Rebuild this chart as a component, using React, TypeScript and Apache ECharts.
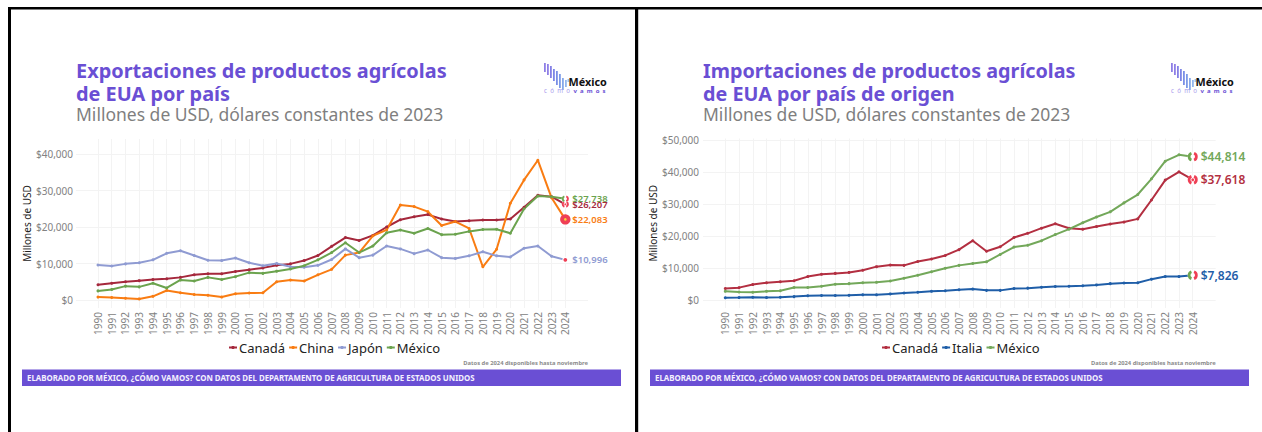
import React, { useEffect, useRef } from "react";
import * as echarts from "echarts";

const FONT = '"Noto Sans", sans-serif';
const years = Array.from({ length: 35 }, (_, i) => 1990 + i);
const ticksLeft = [0, 10000, 20000, 30000, 40000];
const ticksRight = [0, 10000, 20000, 30000, 40000, 50000];

// Exportaciones
const expCanada = [4200, 4600, 5000, 5300, 5600, 5800, 6200, 6900, 7200, 7200, 7800, 8300, 8800, 9500, 9900, 10800, 12200, 14700, 17100, 16300, 17700, 20000, 22000, 22800, 23400, 22200, 21500, 21700, 21900, 21900, 22200, 25400, 28700, 28300, 26207];
const expChina = [800, 700, 500, 300, 1000, 2600, 2000, 1500, 1300, 800, 1700, 1900, 2000, 5000, 5500, 5200, 6900, 8400, 12300, 13000, 17600, 19200, 26000, 25600, 24200, 20400, 21500, 19600, 9100, 13900, 26500, 32900, 38300, 28000, 22083];
const expJapon = [9600, 9300, 9900, 10200, 11000, 12800, 13500, 12200, 10900, 10800, 11500, 10200, 9400, 10000, 9100, 9000, 9500, 11100, 14000, 11600, 12300, 14800, 14000, 12700, 13700, 11600, 11400, 12100, 13200, 12100, 11800, 14200, 14800, 12000, 10996];
const expMexico = [2500, 2900, 3800, 3600, 4600, 3300, 5500, 5200, 6200, 5600, 6400, 7500, 7300, 7900, 8500, 9400, 11000, 13000, 15700, 13000, 14800, 18400, 19200, 18300, 19600, 17900, 18000, 18800, 19300, 19400, 18300, 25000, 28500, 28300, 27738];

// Importaciones
const impCanada = [3700, 3950, 4900, 5500, 5800, 6100, 7400, 8100, 8400, 8700, 9400, 10500, 11000, 10900, 12100, 12900, 14000, 15800, 18600, 15300, 16700, 19600, 20900, 22500, 23900, 22500, 22200, 23000, 23800, 24400, 25400, 31300, 37500, 40100, 37618];
const impItalia = [800, 850, 950, 850, 950, 1150, 1400, 1500, 1500, 1550, 1700, 1700, 2000, 2300, 2500, 2800, 3000, 3300, 3500, 3100, 3100, 3650, 3800, 4050, 4300, 4400, 4550, 4800, 5200, 5400, 5500, 6600, 7400, 7400, 7826];
const impMexico = [2800, 2600, 2500, 2800, 3000, 4000, 4000, 4400, 5000, 5200, 5500, 5600, 6000, 6900, 7800, 8900, 10000, 10900, 11500, 12000, 14300, 16600, 17200, 18600, 20500, 22200, 24200, 26000, 27600, 30400, 33000, 37900, 43400, 45400, 44814];

const PURPLE = "#6a4fd4";
const GRAY = "#828282";
const GRID = "#f3f3f3";

const money = (v: number) => "$" + v.toLocaleString("en-US");
const pairs = (vals: number[]) => vals.map((v, i) => [years[i], v]);

function lineSeries(name: string, vals: number[], color: string, idx: number, labelSize: number, offsetX: number) {
  return {
    type: "line",
    name,
    xAxisIndex: idx,
    yAxisIndex: idx,
    data: pairs(vals),
    symbol: "circle",
    symbolSize: 3,
    lineStyle: { color, width: 2 },
    itemStyle: { color },
    emphasis: { disabled: true },
    endLabel: {
      show: true,
      formatter: () => money(vals[vals.length - 1]),
      color,
      fontFamily: FONT,
      fontWeight: 600,
      fontSize: labelSize,
      offset: [offsetX, 0],
    },
    z: 3,
  };
}

function flagSeries(idx: number, r: number, items: [number, string][]) {
  return {
    type: "custom",
    name: "flags" + idx,
    xAxisIndex: idx,
    yAxisIndex: idx,
    clip: false,
    z: 5,
    silent: true,
    data: items.map(([v, f]) => [2024, v, f]),
    renderItem: (_: any, api: any) => {
      const p = api.coord([api.value(0), api.value(1)]);
      const flag = items[_.dataIndex][1];
      const [cx, cy] = p;
      const RED = "#ef3f55";
      const half = (rad: number, start: number, end: number, fill: string) => ({
        type: "sector",
        shape: { cx, cy, r: rad, r0: rad * 0.45, startAngle: start, endAngle: end },
        style: { fill },
      });
      const dot = (rad: number, fill: string) => ({ type: "circle", shape: { cx, cy, r: rad }, style: { fill } });
      let children: any[] = [];
      if (flag === "cn") children = [dot(5.2, RED), dot(1.3, "#f7d23a")];
      else if (flag === "jp") children = [dot(3, "#fff"), dot(1.9, RED)];
      else {
        const left = flag === "ca" ? RED : "#6fa650";
        const a = 1.2;
        children = [dot(r, "#fff"), half(r, Math.PI - a, Math.PI + a, left), half(r, -a, a, RED)];
        if (flag === "ca") children.push(dot(r * 0.28, RED));
      }
      return { type: "group", children };
    },
  };
}

function xAxis(idx: number, min: number, max: number) {
  return {
    type: "value",
    gridIndex: idx,
    min,
    max,
    axisLine: { show: false },
    axisTick: { show: false, customValues: years },
    splitLine: { show: true, lineStyle: { color: GRID, width: 1 } },
    axisLabel: {
      customValues: years,
      rotate: 90,
      margin: 4,
      color: GRAY,
      fontFamily: FONT,
      fontSize: 10,
      formatter: (v: number) => String(v),
    },
  };
}

function yAxis(idx: number, min: number, max: number, ticks: number[], gap: number, margin: number) {
  return {
    type: "value",
    gridIndex: idx,
    min,
    max,
    name: "Millones de USD",
    nameLocation: "middle",
    nameGap: gap,
    nameRotate: 90,
    nameTextStyle: { color: "#222", fontFamily: FONT, fontSize: 10 },
    axisLine: { show: false },
    axisTick: { show: false, customValues: ticks },
    splitLine: { show: true, lineStyle: { color: GRID, width: 1 } },
    axisLabel: {
      customValues: ticks,
      margin,
      color: GRAY,
      fontFamily: FONT,
      fontSize: 10,
      formatter: money,
    },
  };
}

function logo(x: number, y: number) {
  const bars: [number, number, number][] = [
    [0, 0, 9], [3, 1, 11], [6, 3, 12], [9, 6, 12], [12, 8, 14], [15, 11, 14], [18, 15, 12], [21, 17, 7], [23.5, 16, 3],
  ];
  const barColors = ["#8f7fe6", "#8f7fe6", "#8580e6", "#7d86e6", "#7a8fe6", "#7c9ae8", "#86a8ea", "#93b6ee", "#9cc0f0"];
  return {
    type: "group",
    x,
    y,
    children: [
      ...bars.map((b, i) => ({
        type: "rect",
        shape: { x: b[0], y: b[1], width: 1.8, height: b[2] },
        style: { fill: barColors[i] },
      })),
      { type: "text", x: 24.5, y: 13, style: { text: "México", fill: "#111", font: `700 10.8px ${FONT}` } },
      { type: "text", x: 0, y: 24.5, style: { text: "c  ó  m  o", fill: "#a99bec", font: `400 6.2px ${FONT}` } },
      { type: "text", x: 29.5, y: 24.5, style: { text: "v  a  m  o  s", fill: "#6a4fd4", font: `700 6px ${FONT}` } },
    ],
  };
}

function footer(x: number, noteRight: number) {
  return [
    { type: "rect", shape: { x, y: 369.5, width: 599, height: 16.5 }, style: { fill: PURPLE } },
    {
      type: "text",
      x: x + 5,
      y: 373.5,
      style: {
        text: "ELABORADO POR MÉXICO, ¿CÓMO VAMOS? CON DATOS DEL DEPARTAMENTO DE AGRICULTURA DE ESTADOS UNIDOS",
        fill: "#f4f1ff",
        font: `700 7.87px ${FONT}`,
      },
    },
    {
      type: "text",
      x: noteRight,
      y: 359.5,
      style: {
        text: "Datos de 2024 disponibles hasta noviembre",
        fill: "#8c8c8c",
        align: "right",
        font: `700 5.8px ${FONT}`,
      },
    },
  ];
}

function titles(x: number, line1: string, line2: string, size: number) {
  return [
    {
      left: x,
      top: 59,
      text: line1 + "\n" + line2,
      textStyle: { color: PURPLE, fontFamily: FONT, fontWeight: 700, fontSize: size, lineHeight: 23 },
      padding: 0,
    },
    {
      left: x,
      top: 103,
      text: "Millones de USD, dólares constantes de 2023",
      textStyle: { color: "#7f7f7f", fontFamily: FONT, fontWeight: 400, fontSize: 17.5, lineHeight: 22 },
      padding: 0,
    },
  ];
}

export default function App() {
  const ref = useRef<HTMLDivElement>(null);
  useEffect(() => {
    const chart = echarts.init(ref.current!, null, { renderer: "svg" });
    const legendBase = {
      top: 341,
      itemWidth: 8,
      itemHeight: 4,
      itemGap: 3,
      padding: 0,
      selectedMode: false,
      textStyle: { color: "#222", fontFamily: FONT, fontSize: 13, padding: [0, 0, 0, -3] },
    };
    const C = { a: "#a5283c", o: "#f97c12", j: "#8f9bd2", m: "#6ba34e", c2: "#b32f41", i: "#1f5ea8", m2: "#73a85a" };
    chart.setOption({
      animation: false,
      backgroundColor: "#fff",
      title: [
        ...titles(76, "Exportaciones de productos agrícolas", "de EUA por país", 19.9),
        ...titles(703, "Importaciones de productos agrícolas", "de EUA por país de origen", 19.75),
      ],
      grid: [
        { left: 76, width: 512, top: 139, height: 169 },
        { left: 703, width: 512.7, top: 138.5, height: 169.5 },
      ],
      xAxis: [xAxis(0, 1988.4, 2025.65), xAxis(1, 1988.38, 2025.67)],
      yAxis: [
        yAxis(0, -2190, 44110, ticksLeft, 41, 3),
        yAxis(1, -2400, 50480, ticksRight, 42, 4),
      ],
      legend: [
        {
          ...legendBase,
          left: 228,
          data: [
            { name: "Canadá", itemStyle: { color: C.a }, lineStyle: { color: C.a } },
            { name: "China", itemStyle: { color: C.o }, lineStyle: { color: C.o } },
            { name: "Japón", itemStyle: { color: C.j }, lineStyle: { color: C.j } },
            { name: "México", itemStyle: { color: C.m }, lineStyle: { color: C.m } },
          ],
        },
        {
          ...legendBase,
          left: 881,
          data: [
            { name: "Canadá", itemStyle: { color: C.c2 }, lineStyle: { color: C.c2 } },
            { name: "Italia", itemStyle: { color: C.i }, lineStyle: { color: C.i } },
            { name: "México", itemStyle: { color: C.m2 }, lineStyle: { color: C.m2 } },
          ],
        },
      ],
      series: [
        lineSeries("Canadá", expCanada, C.a, 0, 9.5, -1),
        lineSeries("China", expChina, C.o, 0, 9.5, -1),
        lineSeries("Japón", expJapon, C.j, 0, 9.5, -1),
        lineSeries("México", expMexico, C.m, 0, 9.5, -1),
        flagSeries(0, 3.6, [
          [expCanada[34], "ca"],
          [expChina[34], "cn"],
          [expJapon[34], "jp"],
          [expMexico[34], "mx"],
        ]),
        lineSeries("Canadá", impCanada, C.c2, 1, 12, 0),
        lineSeries("Italia", impItalia, C.i, 1, 12, 0),
        lineSeries("México", impMexico, C.m2, 1, 12, 0),
        flagSeries(1, 5, [
          [impCanada[34], "ca"],
          [impItalia[34], "mx"],
          [impMexico[34], "mx"],
        ]),
      ],
      graphic: [
        { type: "rect", shape: { x: 8, y: 7, width: 1254, height: 2.5 }, style: { fill: "#000" } },
        { type: "rect", shape: { x: 8, y: 7, width: 3, height: 425 }, style: { fill: "#000" } },
        { type: "rect", shape: { x: 635, y: 7, width: 3.2, height: 425 }, style: { fill: "#000" } },
        ...footer(22, 588),
        ...footer(650, 1215.7),
        logo(544, 63),
        logo(1171, 63),
      ],
    });
    return () => chart.dispose();
  }, []);
  return <div ref={ref} style={{ position: "fixed", left: 0, top: 0, width: 1262, height: 432 }} />;
}
